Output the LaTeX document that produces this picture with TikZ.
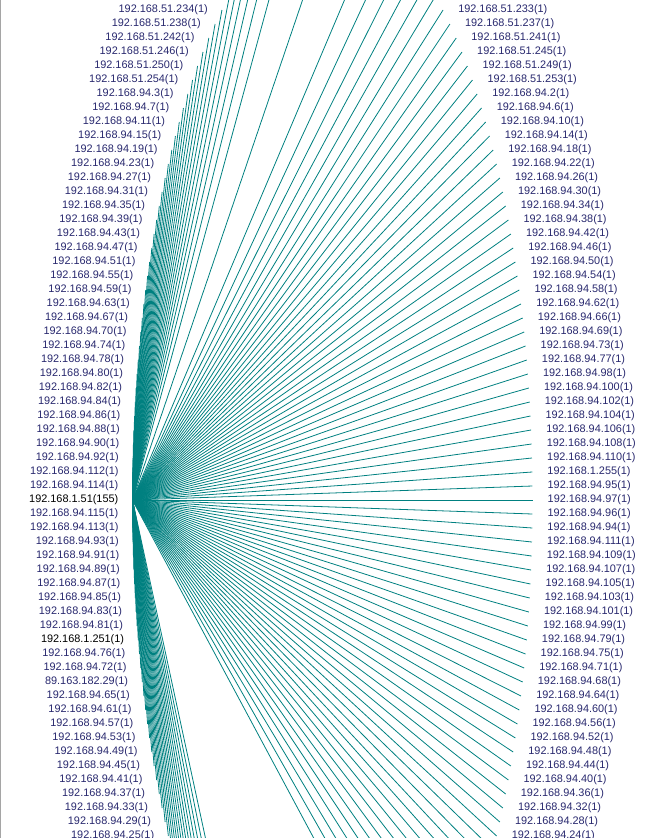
\documentclass[tikz,border=0pt]{standalone}
\usepackage{fontspec}
\setmainfont{Liberation Sans}
\definecolor{edgec}{RGB}{0,128,128}
\definecolor{labc}{RGB}{40,40,110}
\definecolor{framec}{RGB}{165,165,165}
\begin{document}
\begin{tikzpicture}[x=1pt,y=-1pt,
  edge/.style={draw=edgec,line width=0.8pt},
  lab/.style={text=labc,inner sep=0pt,font=\fontsize{10.9}{12}\selectfont},
  labk/.style={lab,text=black}]
\useasboundingbox (0,0) rectangle (653,838);
\clip (0,0) rectangle (653,838);
\def\leftlist{192.168.51.234(1)/lab,192.168.51.238(1)/lab,192.168.51.242(1)/lab,192.168.51.246(1)/lab,192.168.51.250(1)/lab,192.168.51.254(1)/lab,192.168.94.3(1)/lab,192.168.94.7(1)/lab,192.168.94.11(1)/lab,192.168.94.15(1)/lab,192.168.94.19(1)/lab,192.168.94.23(1)/lab,192.168.94.27(1)/lab,192.168.94.31(1)/lab,192.168.94.35(1)/lab,192.168.94.39(1)/lab,192.168.94.43(1)/lab,192.168.94.47(1)/lab,192.168.94.51(1)/lab,192.168.94.55(1)/lab,192.168.94.59(1)/lab,192.168.94.63(1)/lab,192.168.94.67(1)/lab,192.168.94.70(1)/lab,192.168.94.74(1)/lab,192.168.94.78(1)/lab,192.168.94.80(1)/lab,192.168.94.82(1)/lab,192.168.94.84(1)/lab,192.168.94.86(1)/lab,192.168.94.88(1)/lab,192.168.94.90(1)/lab,192.168.94.92(1)/lab,192.168.94.112(1)/lab,192.168.94.114(1)/lab,192.168.1.51(155)/labk,192.168.94.115(1)/lab,192.168.94.113(1)/lab,192.168.94.93(1)/lab,192.168.94.91(1)/lab,192.168.94.89(1)/lab,192.168.94.87(1)/lab,192.168.94.85(1)/lab,192.168.94.83(1)/lab,192.168.94.81(1)/lab,192.168.1.251(1)/labk,192.168.94.76(1)/lab,192.168.94.72(1)/lab,89.163.182.29(1)/lab,192.168.94.65(1)/lab,192.168.94.61(1)/lab,192.168.94.57(1)/lab,192.168.94.53(1)/lab,192.168.94.49(1)/lab,192.168.94.45(1)/lab,192.168.94.41(1)/lab,192.168.94.37(1)/lab,192.168.94.33(1)/lab,192.168.94.29(1)/lab,192.168.94.25(1)/lab}
\def\rightlist{192.168.51.233(1),192.168.51.237(1),192.168.51.241(1),192.168.51.245(1),192.168.51.249(1),192.168.51.253(1),192.168.94.2(1),192.168.94.6(1),192.168.94.10(1),192.168.94.14(1),192.168.94.18(1),192.168.94.22(1),192.168.94.26(1),192.168.94.30(1),192.168.94.34(1),192.168.94.38(1),192.168.94.42(1),192.168.94.46(1),192.168.94.50(1),192.168.94.54(1),192.168.94.58(1),192.168.94.62(1),192.168.94.66(1),192.168.94.69(1),192.168.94.73(1),192.168.94.77(1),192.168.94.98(1),192.168.94.100(1),192.168.94.102(1),192.168.94.104(1),192.168.94.106(1),192.168.94.108(1),192.168.94.110(1),192.168.1.255(1),192.168.94.95(1),192.168.94.97(1),192.168.94.96(1),192.168.94.94(1),192.168.94.111(1),192.168.94.109(1),192.168.94.107(1),192.168.94.105(1),192.168.94.103(1),192.168.94.101(1),192.168.94.99(1),192.168.94.79(1),192.168.94.75(1),192.168.94.71(1),192.168.94.68(1),192.168.94.64(1),192.168.94.60(1),192.168.94.56(1),192.168.94.52(1),192.168.94.48(1),192.168.94.44(1),192.168.94.40(1),192.168.94.36(1),192.168.94.32(1),192.168.94.28(1),192.168.94.24(1)}
% node points on the ellipse (visible rows)
\foreach \i in {0,...,59} {
  \pgfmathsetmacro\yy{10+14*\i}
  \pgfmathsetmacro\dd{200*sqrt(max(0,1-((\yy-500)/588)^2))}
  \coordinate (L\i) at ({332.5-\dd},\yy);
  \coordinate (R\i) at ({332.5+\dd},\yy);
}
% node points outside the window
\foreach \k [count=\n] in {-6,...,-1,60,61,...,73} {
  \pgfmathsetmacro\yy{10+14*\k}
  \pgfmathsetmacro\dd{200*sqrt(max(0,1-((\yy-500)/588)^2))}
  \coordinate (LO\n) at ({332.5-\dd},\yy);
  \coordinate (RO\n) at ({332.5+\dd},\yy);
}
\coordinate (Top) at (332.5,-88);
% connectors
\foreach \i in {0,...,59} {
  \ifnum\i=35\relax\else\draw[edge] (L35) -- (L\i);\fi
  \draw[edge] (L35) -- (R\i);
}
\foreach \n in {1,...,20} {
  \draw[edge] (L35) -- (LO\n);
  \draw[edge] (L35) -- (RO\n);
}
\draw[edge] (L35) -- (Top);
% labels
\foreach \t/\s [count=\c from 0] in \leftlist {
  \node[\s,anchor=east] (LL\c) at ([xshift=-14pt]L\c) {\t};
}
\foreach \t [count=\c from 0] in \rightlist {
  \node[lab,anchor=west] (RL\c) at ([xshift=15pt]R\c) {\t};
}
\draw[framec,line width=1pt] (0.5,0) -- (0.5,838);
\end{tikzpicture}
\end{document}
